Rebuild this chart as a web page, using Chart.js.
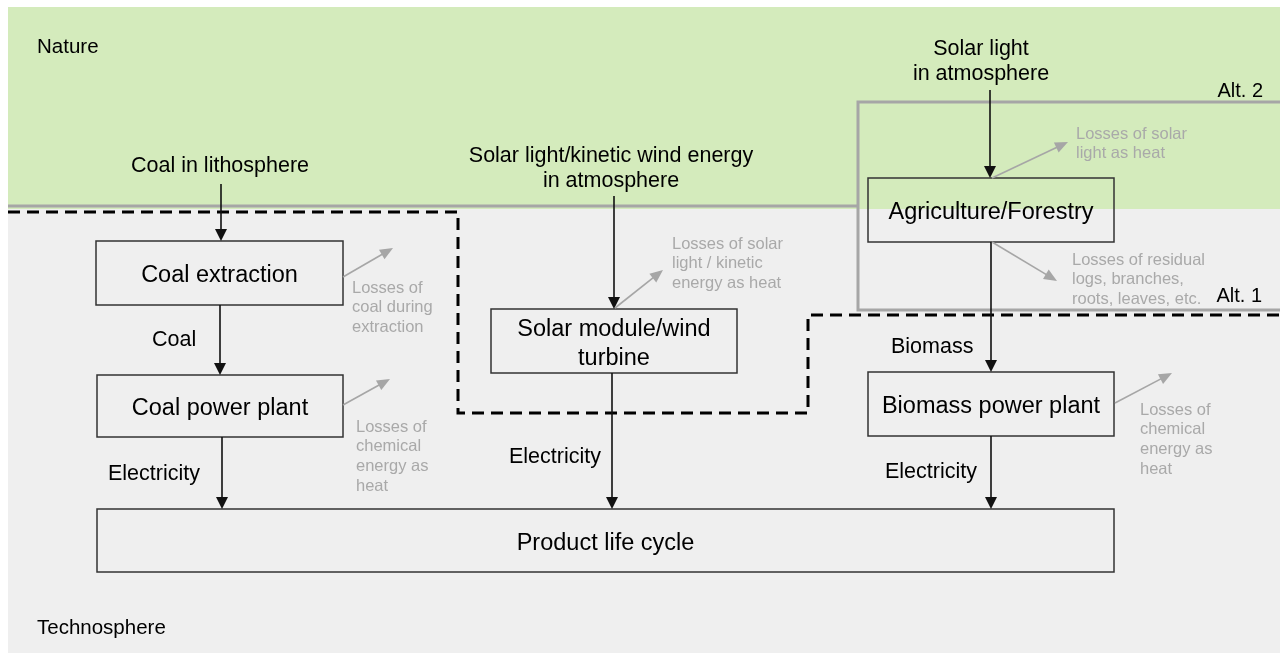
<!DOCTYPE html>
<html><head><meta charset="utf-8">
<script src="https://cdn.jsdelivr.net/npm/chart.js@4/dist/chart.umd.min.js"></script>
<style>html,body{margin:0;padding:0;background:#fff;}canvas{display:block}</style>
</head><body>
<div style="width:1280px;height:653px"><canvas id="c" width="1280" height="653"></canvas></div>
<script>
// ---- Spheres (background bands) ----
const sphereNames = ['Nature', 'Technosphere'];
const sphereTop = [7, 209];
const sphereBottom = [209, 653];
const sphereLabelX = [37, 37];
const sphereLabelY = [45, 626];

// ---- Process boxes ----
const boxNames = ['Coal extraction', 'Coal power plant', 'Solar module/wind\nturbine', 'Agriculture/Forestry', 'Biomass power plant', 'Product life cycle'];
const boxLeft = [96, 97, 491, 868, 868, 97];
const boxTop = [241, 375, 309, 178, 372, 509];
const boxRight = [343, 343, 737, 1114, 1114, 1114];
const boxBottom = [305, 437, 373, 242, 436, 572];

// ---- Main flows (black arrows) ----
const flowX = [221, 220, 222, 614, 612, 990, 991, 991];
const flowFrom = [184, 305, 437, 196, 373, 90, 242, 436];
const flowTo = [241, 375, 509, 309, 509, 178, 372, 509];

// ---- Flow / source labels ----
const flowLabels = ['Coal in lithosphere', 'Solar light/kinetic wind energy\nin atmosphere', 'Solar light\nin atmosphere', 'Coal', 'Electricity', 'Electricity', 'Biomass', 'Electricity'];
const flowLabelX = [220, 611, 981, 152, 108, 509, 891, 885];
const flowLabelY = [164, 154, 47, 338, 472, 455, 345, 470];
const flowLabelAlign = ['center', 'center', 'center', 'left', 'left', 'left', 'left', 'left'];

// ---- Losses (grey arrows + text) ----
const lossFromX = [343, 343, 615, 992, 992, 1115];
const lossFromY = [277, 405, 308, 178, 242, 403];
const lossToX = [393, 390, 663, 1068, 1057, 1172];
const lossToY = [248, 379, 270, 142, 281, 373];
const lossTexts = ['Losses of\ncoal during\nextraction', 'Losses of\nchemical\nenergy as\nheat', 'Losses of solar\nlight / kinetic\nenergy as heat', 'Losses of solar\nlight as heat', 'Losses of residual\nlogs, branches,\nroots, leaves, etc.', 'Losses of\nchemical\nenergy as\nheat'];
const lossTextX = [352, 356, 672, 1076, 1072, 1140];
const lossTextY = [287, 426, 243, 133, 259, 409];

// ---- System boundaries ----
const alt2LeftX = [8, 858];
const alt2LeftY = [206, 206];
const alt2BoxX = [1280, 858, 858, 1280];
const alt2BoxY = [102, 102, 310, 310];
const alt1X = [8, 458, 458, 808, 808, 1280];
const alt1Y = [212, 212, 413, 413, 315, 315];
const altLabels = ['Alt. 2', 'Alt. 1'];
const altLabelX = [1263, 1262];
const altLabelY = [89, 294];

const FONT = '"Liberation Sans", Arial, Helvetica, sans-serif';
const zip = (xs, ys) => xs.map((x, i) => ({x: x, y: ys[i]}));
const TEXT_DY = 2;

const diagramPlugin = {
  id: 'diagram',
  beforeDatasetsDraw(chart) {
    const ctx = chart.ctx, X = chart.scales.x, Y = chart.scales.y;
    ctx.save();
    const colors = ['#d4ebbc', '#efefef'];
    sphereNames.forEach((n, i) => {
      const x0 = X.getPixelForValue(8), x1 = X.getPixelForValue(1280);
      const y0 = Y.getPixelForValue(sphereTop[i]), y1 = Y.getPixelForValue(sphereBottom[i]);
      ctx.fillStyle = colors[i];
      ctx.fillRect(x0, y0, x1 - x0, y1 - y0);
    });
    ctx.restore();
  },
  afterDatasetsDraw(chart) {
    const ctx = chart.ctx, X = chart.scales.x, Y = chart.scales.y;
    const px = v => X.getPixelForValue(v), py = v => Y.getPixelForValue(v);
    ctx.save();
    ctx.textBaseline = 'middle';
    // sphere labels
    ctx.fillStyle = '#000';
    ctx.font = '20.5px ' + FONT;
    ctx.textAlign = 'left';
    sphereNames.forEach((n, i) => ctx.fillText(n, px(sphereLabelX[i]), py(sphereLabelY[i] + TEXT_DY)));

    // boxes
    ctx.strokeStyle = '#333';
    ctx.lineWidth = 1.5;
    ctx.font = '23.5px ' + FONT;
    ctx.textAlign = 'center';
    boxNames.forEach((n, i) => {
      const x0 = px(boxLeft[i]), x1 = px(boxRight[i]), y0 = py(boxTop[i]), y1 = py(boxBottom[i]);
      ctx.strokeRect(x0, y0, x1 - x0, y1 - y0);
      const lines = n.split('\n');
      const cx = (x0 + x1) / 2, cy = (y0 + y1) / 2 + TEXT_DY + 1, lh = 29;
      lines.forEach((l, j) => ctx.fillText(l, cx, cy + (j - (lines.length - 1) / 2) * lh));
    });

    // arrow helper
    function arrow(x0, y0, x1, y1, color, w, hl, hw) {
      const a = Math.atan2(y1 - y0, x1 - x0);
      ctx.strokeStyle = color; ctx.fillStyle = color; ctx.lineWidth = w;
      ctx.beginPath();
      ctx.moveTo(x0, y0);
      ctx.lineTo(x1 - Math.cos(a) * hl * 0.8, y1 - Math.sin(a) * hl * 0.8);
      ctx.stroke();
      ctx.beginPath();
      ctx.moveTo(x1, y1);
      ctx.lineTo(x1 - Math.cos(a) * hl - Math.sin(a) * hw, y1 - Math.sin(a) * hl + Math.cos(a) * hw);
      ctx.lineTo(x1 - Math.cos(a) * hl + Math.sin(a) * hw, y1 - Math.sin(a) * hl - Math.cos(a) * hw);
      ctx.closePath();
      ctx.fill();
    }
    // main flows
    flowX.forEach((x, i) => arrow(px(x), py(flowFrom[i]), px(x), py(flowTo[i]), '#111', 1.6, 12, 6));
    // losses
    lossFromX.forEach((x, i) => arrow(px(x), py(lossFromY[i]), px(lossToX[i]), py(lossToY[i]), '#a6a6a6', 1.6, 13, 5.5));

    // flow labels
    ctx.fillStyle = '#000';
    ctx.font = '21.5px ' + FONT;
    flowLabels.forEach((t, i) => {
      ctx.textAlign = flowLabelAlign[i];
      t.split('\n').forEach((l, j) => ctx.fillText(l, px(flowLabelX[i]), py(flowLabelY[i] + j * 25 + TEXT_DY)));
    });

    // loss texts
    ctx.fillStyle = '#a9a9a9';
    ctx.font = '16.5px ' + FONT;
    ctx.textAlign = 'left';
    lossTexts.forEach((t, i) => {
      t.split('\n').forEach((l, j) => ctx.fillText(l, px(lossTextX[i]), py(lossTextY[i] + j * 19.7 + 1)));
    });

    // alt labels
    ctx.fillStyle = '#000';
    ctx.font = '20px ' + FONT;
    ctx.textAlign = 'right';
    altLabels.forEach((t, i) => ctx.fillText(t, px(altLabelX[i]), py(altLabelY[i] + TEXT_DY)));
    ctx.restore();
  }
};

new Chart(document.getElementById('c'), {
  type: 'scatter',
  data: {
    datasets: [
      {data: zip(alt2LeftX, alt2LeftY), showLine: true, borderColor: '#a6a6a6', borderWidth: 3, pointRadius: 0, clip: false},
      {data: zip(alt2BoxX, alt2BoxY), showLine: true, borderColor: '#a6a6a6', borderWidth: 3, pointRadius: 0, clip: false},
      {data: zip(alt1X, alt1Y), showLine: true, borderColor: '#000', borderWidth: 3, borderDash: [12, 7], pointRadius: 0, clip: false}
    ]
  },
  options: {
    responsive: false,
    animation: false,
    devicePixelRatio: 1,
    layout: {padding: 0},
    plugins: {legend: {display: false}, tooltip: {enabled: false}},
    scales: {
      x: {type: 'linear', min: 0, max: 1280, display: false},
      y: {type: 'linear', min: 0, max: 653, reverse: true, display: false}
    }
  },
  plugins: [diagramPlugin]
});
</script>
</body></html>
